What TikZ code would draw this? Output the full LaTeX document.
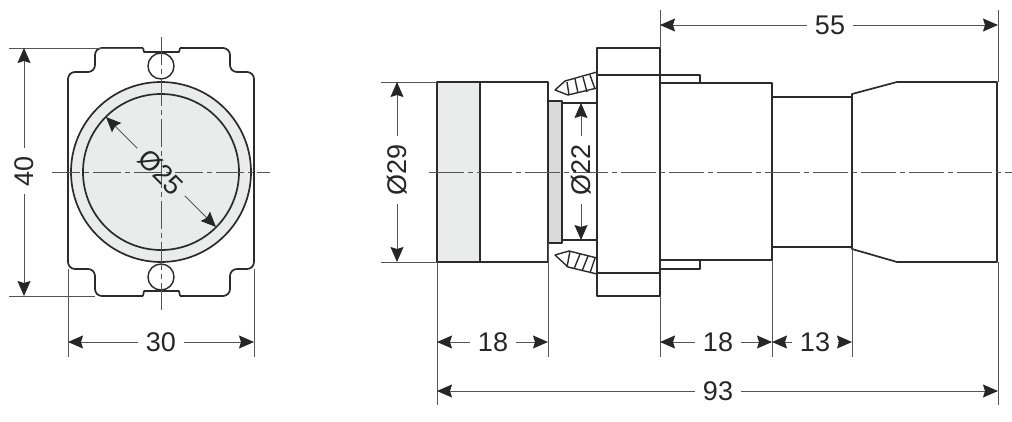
\documentclass[tikz,border=0pt]{standalone}
\usepackage{fontspec}
\setmainfont{Liberation Sans}
\usepackage{tikz}
\usetikzlibrary{arrows.meta, positioning}
\definecolor{inkdark}{HTML}{2B2B2B}
\definecolor{inkthin}{HTML}{555555}
\definecolor{facegray}{HTML}{EAECEC}
\definecolor{ringgray}{HTML}{D9DBDB}
\tikzset{
	outline/.style={
		draw=inkdark,
		line width=1.7pt,
		line join=round
	},
	screwline/.style={
		draw=inkdark,
		line width=1.4pt,
		line join=round
	},
	thinline/.style={
		draw=inkthin,
		line width=1pt
	},
	axisline/.style={
		draw=inkthin,
		line width=1pt,
		dash pattern=on 35pt off 4pt on 5pt off 4pt
	},
	axisshort/.style={
		draw=inkthin,
		line width=1pt,
		dash pattern=on 28pt off 4pt on 5pt off 4pt
	},
	dimarrow/.style={
		draw=inkthin,
		line width=1pt,
		-{Stealth[length=15pt,width=13pt,inset=2pt,color=black!85]}
	},
	dimlabel/.style={
		inner sep=8pt,
		text=black!85,
		font=\fontsize{27}{30}\selectfont
	}
}

\begin{document}
\begin{tikzpicture}[x=1pt,y=-1pt]
	\useasboundingbox (0,0) rectangle (1012,421);
	% front view
	\coordinate (fc) at (161,172);
	\draw [outline, rounded corners=7pt] (180,48) -- (230,48) -- (230,72) -- (254,72)
		-- (254,269) -- (230,269) -- (230,296) -- (180,296);
	\draw [outline, rounded corners=7pt] (143,296) -- (95,296) -- (95,269) -- (68,269)
		-- (68,72) -- (95,72) -- (95,48) -- (143,48);
	\draw [outline] (143,48) -- (144,52) -- (179,52) -- (180,48);
	\draw [outline] (143,296) -- (144,291) -- (179,291) -- (180,296);
	\draw [screwline] (161,66) circle (13);
	\draw [screwline] (161,277) circle (13);
	\draw [outline, fill=facegray] (fc) circle (90);
	\draw [outline] (fc) circle (78);
	\draw [axisshort] (52,172) -- (270,172);
	\draw [axisshort] (161,37) -- (161,310);

	% side view
	\draw [outline, fill=facegray] (437,82) rectangle (480,262);
	\draw [outline] (480,82) rectangle (548,262);
	\draw [outline, fill=ringgray] (548,101) rectangle (562,243);
	\draw [outline] (562,103) -- (597,103);
	\draw [outline] (562,240) -- (597,240);
	\draw [outline] (597,48) rectangle (660,296);
	\draw [outline] (597,75) -- (660,75);
	\draw [outline] (597,273) -- (660,273);
	\draw [screwline] (660,75) -- (700,75) -- (700,83);
	\draw [screwline] (660,269) -- (700,269) -- (700,260);
	\draw [outline] (660,83) rectangle (772,260);
	\draw [outline] (772,97) -- (852,97);
	\draw [outline] (772,247) -- (852,247);
	\draw [outline] (852,94) -- (897,82) -- (997,82) -- (997,262) -- (897,262) -- (852,249) -- cycle;
	% screws
	\draw [screwline] (597,72) -- (565,81) -- (555,90) -- (568,95) -- (597,88);
	\foreach \ta/\tb/\tc/\td in {567/82/569/95, 575/79/578/93, 583/77/587/92, 590/75/595/89} {
		\draw [screwline] (\ta,\tb) -- (\tc,\td);
	}
	\draw [screwline] (597,258) -- (569,251) -- (555,255) -- (568,267) -- (597,274);
	\foreach \ta/\tb/\tc/\td in {570/251/567/267, 580/254/574/269, 588/256/582/271, 595/258/590/273} {
		\draw [screwline] (\ta,\tb) -- (\tc,\td);
	}
	\draw [axisline] (429,172) -- (1012,172);

	% extension lines
	\draw [thinline] (9,48) -- (143,48);
	\draw [thinline] (9,296) -- (95,296);
	\draw [thinline] (68,269) -- (68,357);
	\draw [thinline] (254,269) -- (254,357);
	\draw [thinline] (381,82) -- (437,82);
	\draw [thinline] (381,262) -- (437,262);
	\draw [thinline] (437,262) -- (437,405);
	\draw [thinline] (548,243) -- (548,357);
	\draw [thinline] (660,10) -- (660,48);
	\draw [thinline] (660,296) -- (660,357);
	\draw [thinline] (772,260) -- (772,357);
	\draw [thinline] (852,249) -- (852,357);
	\draw [thinline] (998,10) -- (998,82);
	\draw [thinline] (998,262) -- (998,405);

	% dimensions
	\node (d40) [dimlabel, rotate=90] at (24,171) {40};
	\coordinate (d40a) at (24,48);
	\coordinate (d40b) at (24,296);
	\draw [dimarrow] (d40) -- (d40a);
	\draw [dimarrow] (d40) -- (d40b);

	\node (d30) [dimlabel] at (161,342) {30};
	\coordinate (d30a) at (68,342);
	\coordinate (d30b) at (254,342);
	\draw [dimarrow] (d30) -- (d30a);
	\draw [dimarrow] (d30) -- (d30b);

	\node (d25) [dimlabel, rotate=-45] at (161,172) {Ø25};
	\coordinate (d25a) at (106,117);
	\coordinate (d25b) at (216,227);
	\draw [dimarrow] (d25) -- (d25a);
	\draw [dimarrow] (d25) -- (d25b);

	\node (d29) [dimlabel, rotate=90] at (397,170) {Ø29};
	\coordinate (d29a) at (397,82);
	\coordinate (d29b) at (397,262);
	\draw [dimarrow] (d29) -- (d29a);
	\draw [dimarrow] (d29) -- (d29b);

	\node (d22) [dimlabel, rotate=90] at (581,170) {Ø22};
	\coordinate (d22a) at (581,103);
	\coordinate (d22b) at (581,240);
	\draw [dimarrow] (d22) -- (d22a);
	\draw [dimarrow] (d22) -- (d22b);

	\node (d55) [dimlabel] at (830,25) {55};
	\coordinate (d55a) at (660,25);
	\coordinate (d55b) at (998,25);
	\draw [dimarrow] (d55) -- (d55a);
	\draw [dimarrow] (d55) -- (d55b);

	\node (d18a) [dimlabel] at (493,342) {18};
	\coordinate (d18aa) at (437,342);
	\coordinate (d18ab) at (548,342);
	\draw [dimarrow] (d18a) -- (d18aa);
	\draw [dimarrow] (d18a) -- (d18ab);

	\node (d18b) [dimlabel] at (718,342) {18};
	\coordinate (d18ba) at (660,342);
	\coordinate (d18bb) at (772,342);
	\draw [dimarrow] (d18b) -- (d18ba);
	\draw [dimarrow] (d18b) -- (d18bb);

	\node (d13) [dimlabel] at (815,342) {13};
	\coordinate (d13a) at (772,342);
	\coordinate (d13b) at (852,342);
	\draw [dimarrow] (d13) -- (d13a);
	\draw [dimarrow] (d13) -- (d13b);

	\node (d93) [dimlabel] at (718,391) {93};
	\coordinate (d93a) at (437,391);
	\coordinate (d93b) at (998,391);
	\draw [dimarrow] (d93) -- (d93a);
	\draw [dimarrow] (d93) -- (d93b);
\end{tikzpicture}
\end{document}
